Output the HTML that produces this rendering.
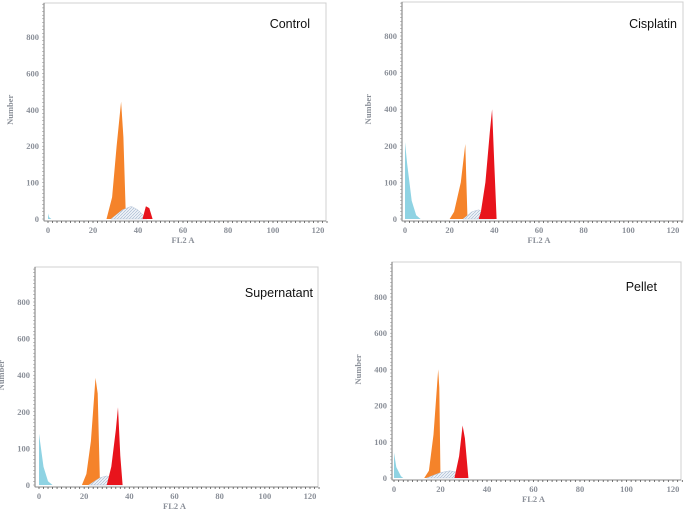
<!DOCTYPE html>
<html><head><meta charset="utf-8">
<style>
html,body{margin:0;padding:0;background:#fff;}
svg{display:block;}
.tk{font-family:"Liberation Serif",serif;font-size:8.5px;font-weight:bold;fill:#8a8f98;}
.ttl{font-family:"Liberation Sans",sans-serif;font-size:12.5px;fill:#111;}
</style></head>
<body>
<svg id="chart" width="685" height="510" viewBox="0 0 685 510" xmlns="http://www.w3.org/2000/svg">
<defs>
<pattern id="hatch" width="3" height="3" patternUnits="userSpaceOnUse">
<rect width="3" height="3" fill="#eef2f8"/>
<path d="M0,3 L3,0" stroke="#9fb3cc" stroke-width="0.6"/>
</pattern>
</defs>
</svg>
<script>
// ---- data (FL2 A channel, counts) ----
const panelNames = ["Control","Cisplatin","Supernatant","Pellet"];
const xTicks = [0,20,40,60,80,100,120];
const yTicks = [0,100,200,400,600,800];

const controlSubX = [0,0.5,1.5];            const controlSubY = [15,5,0];
const controlG1X = [26,28.5,30.5,32.5,33.5,34.5,35]; const controlG1Y = [0,60,200,445,250,30,0];
const controlSX = [28,33,37,40,44];          const controlSY = [0,25,35,25,0];
const controlG2X = [42,43.5,45,46.5];        const controlG2Y = [0,35,30,0];

const cisSubX = [0,1,3,5,7];                 const cisSubY = [220,150,50,10,0];
const cisG1X = [20,22,25,27,27.5,28];        const cisG1Y = [0,20,100,210,100,0];
const cisSX = [26,30,33,36,40];              const cisSY = [0,20,25,15,0];
const cisG2X = [33,34,36,38,39,40,41];       const cisG2Y = [0,20,100,280,400,150,0];

const supSubX = [0,2,4,6];                   const supSubY = [140,50,10,0];
const supG1X = [19,21,23,25,26,27];          const supG1Y = [0,30,120,385,300,0];
const supSX = [22,27,30,34,37];              const supSY = [0,20,25,15,0];
const supG2X = [30,32,34,35,36,37];          const supG2Y = [0,50,150,225,80,0];

const pelSubX = [0,1,3,4];                   const pelSubY = [70,30,5,0];
const pelG1X = [13,15,17,19,19.5,20];        const pelG1Y = [0,20,120,400,300,0];
const pelSX = [14,20,24,28,32];              const pelSY = [0,15,20,15,0];
const pelG2X = [26,28,29.5,30.5,32];         const pelG2Y = [0,60,145,110,0];

const seriesData = [
 [[controlSubX,controlSubY],[controlG1X,controlG1Y],[controlSX,controlSY],[controlG2X,controlG2Y]],
 [[cisSubX,cisSubY],[cisG1X,cisG1Y],[cisSX,cisSY],[cisG2X,cisG2Y]],
 [[supSubX,supSubY],[supG1X,supG1Y],[supSX,supSY],[supG2X,supG2Y]],
 [[pelSubX,pelSubY],[pelG1X,pelG1Y],[pelSX,pelSY],[pelG2X,pelG2Y]]
];
// ---- layout ----
const layout = [
 {x0:48,x120:318,y0:219,y800:37,left:44,top:3,right:326,title:[310,28]},
 {x0:405,x120:673,y0:219,y800:36,left:402,top:2,right:683,title:[677,28]},
 {x0:39,x120:310,y0:485,y800:302,left:35,top:267,right:318,title:[313,297]},
 {x0:394,x120:673,y0:478,y800:297,left:392,top:262,right:681,title:[657,291]}
];
const fills = ["#8fd3e3","#f5832a","url(#hatch)","#e8141c"];
const sNames = ["sub-g1-peak","g1-peak","s-phase","g2-peak"];
const svg = document.getElementById('chart');
const NS = "http://www.w3.org/2000/svg";
function mk(tag, attrs, parent){const e=document.createElementNS(NS,tag);for(const k in attrs)e.setAttribute(k,attrs[k]);parent.appendChild(e);return e;}

layout.forEach((L,pi)=>{
  const g = mk('g',{},svg);
  
  
  const xs = v => L.x0 + v*(L.x120-L.x0)/120;
  const step = (L.y0-L.y800)/5;
  const ys = v => {
    for(let i=0;i<yTicks.length-1;i++){
      if(v<=yTicks[i+1]) return L.y0 - (i + (v-yTicks[i])/(yTicks[i+1]-yTicks[i]))*step;
    }
    return L.y800 - (v-800)/200*step;
  };
  const fr = mk('rect',{x:L.left,y:L.top,width:L.right-L.left,height:L.y0+2-L.top,fill:'#fff',stroke:'#d0d0d0','stroke-width':1},g);
  
  
  seriesData[pi].forEach((s,si)=>{
    const X=s[0],Y=s[1];
    let d='M'+xs(X[0])+','+ys(Y[0]);
    for(let i=1;i<X.length;i++) d+=' L'+xs(X[i]).toFixed(1)+','+ys(Y[i]).toFixed(1);
    d+=' L'+xs(X[X.length-1]).toFixed(1)+','+L.y0+' L'+xs(X[0]).toFixed(1)+','+L.y0+' Z';
    const p = mk('path',{d:d,fill:fills[si],stroke:si==2?'#b8c6d8':'none','stroke-width':0.5},g);
    
    
  });
  mk('line',{x1:L.left,y1:L.top,x2:L.left,y2:L.y0+2,stroke:'#777','stroke-width':1},g);
  for(let t=L.y0; t>L.top; t-=step/10){
    mk('line',{x1:L.left-2,y1:t.toFixed(1),x2:L.left,y2:t.toFixed(1),stroke:'#888','stroke-width':0.5},g);
  }
  yTicks.forEach(v=>{
    const t = mk('text',{x:L.left-5,y:ys(v)+3,'text-anchor':'end',class:'tk'},g);
    t.textContent=v;
    
    
  });
  mk('line',{x1:L.left,y1:L.y0+2,x2:L.right,y2:L.y0+2,stroke:'#888','stroke-width':1},g);
  for(let v=0;v<=124;v+=2){
    mk('line',{x1:xs(v),y1:L.y0+2,x2:xs(v),y2:L.y0+4,stroke:'#555','stroke-width':0.8},g);
  }
  xTicks.forEach(v=>{
    const t = mk('text',{x:xs(v),y:L.y0+14,'text-anchor':'middle',class:'tk'},g);
    t.textContent=v;
    
    
  });
  const xt = mk('text',{x:xs(60),y:L.y0+24,'text-anchor':'middle',class:'tk'},g);
  xt.textContent='FL2 A';
  
  
  const ycx = L.left-31, ycy = ys(400);
  const yt = mk('text',{x:ycx,y:ycy,'text-anchor':'middle',class:'tk',transform:'rotate(-90 '+ycx+' '+ycy+')'},g);
  yt.textContent='Number';
  
  
  const tt = mk('text',{x:L.title[0],y:L.title[1],'text-anchor':'end',class:'ttl'},g);
  tt.textContent=panelNames[pi];
  
  
});
</script>
</body></html>
